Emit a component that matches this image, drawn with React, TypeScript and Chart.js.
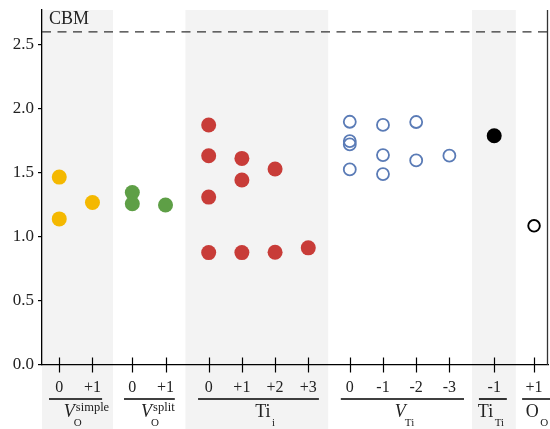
import React, { useEffect, useRef } from "react";
import { Chart, registerables } from "chart.js";
Chart.register(...registerables);

// ---- data ----
const tickPositions = [0, 1, 2.2, 3.2, 4.5, 5.5, 6.5, 7.5, 8.75, 9.75, 10.75, 11.75, 13.1, 14.3];
const tickLabels = ["0", "+1", "0", "+1", "0", "+1", "+2", "+3", "0", "-1", "-2", "-3", "-1", "+1"];

const voSimpleIdx = [0, 0, 1];
const voSimpleY = [1.466, 1.14, 1.268];
const voSplitIdx = [2, 2, 3];
const voSplitY = [1.346, 1.258, 1.248];
const tiIIdx = [4, 4, 4, 4, 5, 5, 5, 6, 6, 7];
const tiIY = [1.873, 1.633, 1.31, 0.877, 1.612, 1.443, 0.877, 1.529, 0.88, 0.914];
const vTiIdx = [8, 8, 8, 8, 9, 9, 9, 10, 10, 11];
const vTiY = [1.898, 1.747, 1.721, 1.526, 1.873, 1.638, 1.49, 1.896, 1.596, 1.633];
const tiTiIdx = [12];
const tiTiY = [1.789];
const oOIdx = [13];
const oOY = [1.086];

const CBM = 2.6;

const groupBase = ["V", "V", "Ti", "V", "Ti", "O"];
const groupItalic = [true, true, false, true, false, false];
const groupSub = ["O", "O", "i", "Ti", "Ti", "O"];
const groupSup = ["simple", "split", "", "", "", ""];
const groupSpans = [[-0.31, 1.29], [1.95, 3.48], [4.18, 7.82], [8.48, 12.19], [12.64, 13.48], [13.94, 15.5]];
const groupLabelCenters = [0.82, 2.97, 6.2, 10.43, 13.0, 14.39];
const bandSpans = [[-0.52, 1.62], [3.8, 8.1], [12.43, 13.75]];

// ---- style ----
const FONT = "'Liberation Serif', 'DejaVu Serif', serif";
const X_MIN = -0.52;
const X_MAX = 14.72;
const Y_MAX = 2.77;
const BAND_COLOR = "#f3f3f3";
const TEXT = "#222";

const pts = (idx: number[], ys: number[]) => idx.map((i, k) => ({ x: tickPositions[i], y: ys[k] }));

const overlay = {
  id: "overlay",
  beforeDraw(chart: any) {
    const { ctx, chartArea } = chart;
    const x = chart.scales.x;
    ctx.save();
    ctx.fillStyle = BAND_COLOR;
    for (const [a, b] of bandSpans) {
      const x0 = x.getPixelForValue(a);
      const x1 = x.getPixelForValue(b);
      ctx.fillRect(x0, chartArea.top, x1 - x0, chart.height - chartArea.top);
    }
    ctx.restore();
  },
  afterDraw(chart: any) {
    const { ctx, chartArea } = chart;
    const x = chart.scales.x;
    const y = chart.scales.y;
    ctx.save();
    // right spine
    ctx.strokeStyle = "#333";
    ctx.lineWidth = 1.3;
    ctx.beginPath();
    ctx.moveTo(chartArea.right - 0.5, chartArea.top);
    ctx.lineTo(chartArea.right - 0.5, chartArea.bottom);
    ctx.stroke();
    // x ticks crossing axis
    ctx.strokeStyle = "#000";
    ctx.lineWidth = 1.2;
    for (const p of tickPositions) {
      const px = Math.round(x.getPixelForValue(p)) + 0.5;
      ctx.beginPath();
      ctx.moveTo(px, chartArea.bottom - 7.5);
      ctx.lineTo(px, chartArea.bottom + 7.5);
      ctx.stroke();
    }
    // CBM dashed line
    const cy = y.getPixelForValue(CBM);
    ctx.strokeStyle = "#333";
    ctx.lineWidth = 1.3;
    ctx.setLineDash([9, 6.5]);
    ctx.beginPath();
    ctx.moveTo(chartArea.left, cy);
    ctx.lineTo(chartArea.right, cy);
    ctx.stroke();
    ctx.setLineDash([]);
    ctx.fillStyle = TEXT;
    ctx.font = `18px ${FONT}`;
    ctx.textAlign = "left";
    ctx.textBaseline = "alphabetic";
    ctx.fillText("CBM", chartArea.left + 7, cy - 8);
    // group underlines + labels
    const lineY = 399;
    const baseY = 417;
    ctx.strokeStyle = "#000";
    ctx.lineWidth = 1.6;
    groupSpans.forEach(([a, b], i) => {
      const x0 = x.getPixelForValue(a);
      const x1 = x.getPixelForValue(b);
      ctx.beginPath();
      ctx.moveTo(x0, lineY);
      ctx.lineTo(x1, lineY);
      ctx.stroke();
      const baseFont = `${groupItalic[i] ? "italic " : ""}18px ${FONT}`;
      const subFont = `11px ${FONT}`;
      const supFont = `12.5px ${FONT}`;
      ctx.font = baseFont;
      const bw = ctx.measureText(groupBase[i]).width;
      ctx.font = subFont;
      const sw = ctx.measureText(groupSub[i]).width;
      ctx.font = supFont;
      const uw = groupSup[i] ? ctx.measureText(groupSup[i]).width : 0;
      const gap = groupItalic[i] ? 1 : 1.5;
      const total = bw + gap + Math.max(sw, uw);
      const cx = x.getPixelForValue(groupLabelCenters[i]);
      const sx = cx - total / 2;
      ctx.fillStyle = TEXT;
      ctx.font = baseFont;
      ctx.fillText(groupBase[i], sx, baseY);
      ctx.font = subFont;
      ctx.fillText(groupSub[i], sx + bw + gap - (groupItalic[i] ? 2 : 0), baseY + 9);
      if (groupSup[i]) {
        ctx.font = supFont;
        ctx.fillText(groupSup[i], sx + bw + gap, baseY - 6);
      }
    });
    ctx.restore();
  },
};

export default function App() {
  const ref = useRef<HTMLCanvasElement | null>(null);
  useEffect(() => {
    if (!ref.current) return;
    const filled = (data: any[], color: string) => ({
      data,
      backgroundColor: color,
      borderColor: color,
      borderWidth: 0,
      pointRadius: 7.5,
      pointHoverRadius: 7.5,
    });
    const hollow = (data: any[], color: string, r: number, bw: number) => ({
      data,
      backgroundColor: "rgba(0,0,0,0)",
      borderColor: color,
      borderWidth: bw,
      pointRadius: r,
      pointHoverRadius: r,
    });
    const chart = new Chart(ref.current, {
      type: "scatter",
      data: {
        datasets: [
          filled(pts(voSimpleIdx, voSimpleY), "#f4b800"),
          filled(pts(voSplitIdx, voSplitY), "#5e9f46"),
          filled(pts(tiIIdx, tiIY), "#c83c38"),
          hollow(pts(vTiIdx, vTiY), "#5a7bb6", 6, 1.8),
          filled(pts(tiTiIdx, tiTiY), "#000000"),
          hollow(pts(oOIdx, oOY), "#000000", 5.8, 1.9),
        ] as any,
      },
      options: {
        responsive: false,
        animation: false,
        layout: { autoPadding: false, padding: { top: 10, right: 2, left: 0, bottom: 0 } },
        plugins: { legend: { display: false }, tooltip: { enabled: false } },
        scales: {
          x: {
            type: "linear",
            min: X_MIN,
            max: X_MAX,
            afterFit: (s: any) => { s.height = 64; s.paddingLeft = 0; s.paddingRight = 0; },
            afterBuildTicks: (s: any) => { s.ticks = tickPositions.map((v) => ({ value: v })); },
            grid: { display: false, drawTicks: false },
            border: { display: true, color: "#000", width: 1.3 },
            ticks: {
              autoSkip: false,
              maxRotation: 0,
              padding: 13,
              color: TEXT,
              font: { family: FONT, size: 16 },
              callback: (_v: any, i: number) => tickLabels[i],
            },
          },
          y: {
            min: 0,
            max: Y_MAX,
            afterFit: (s: any) => { s.width = 42; s.paddingTop = 0; s.paddingBottom = 0; },
            grid: { display: true, drawOnChartArea: false, drawTicks: true, tickLength: 4, color: "#000", lineWidth: 1.2 },
            border: { display: true, color: "#000", width: 1.3 },
            ticks: {
              stepSize: 0.5,
              includeBounds: false,
              padding: 4,
              color: TEXT,
              font: { family: FONT, size: 17 },
              callback: (v: any) => Number(v).toFixed(1),
            },
          },
        },
      },
      plugins: [overlay],
    });
    return () => chart.destroy();
  }, []);
  return (
    <div style={{ position: "absolute", left: 0, top: 0, width: 550, height: 429, background: "#fff" }}>
      <canvas ref={ref} width={550} height={429} />
    </div>
  );
}
